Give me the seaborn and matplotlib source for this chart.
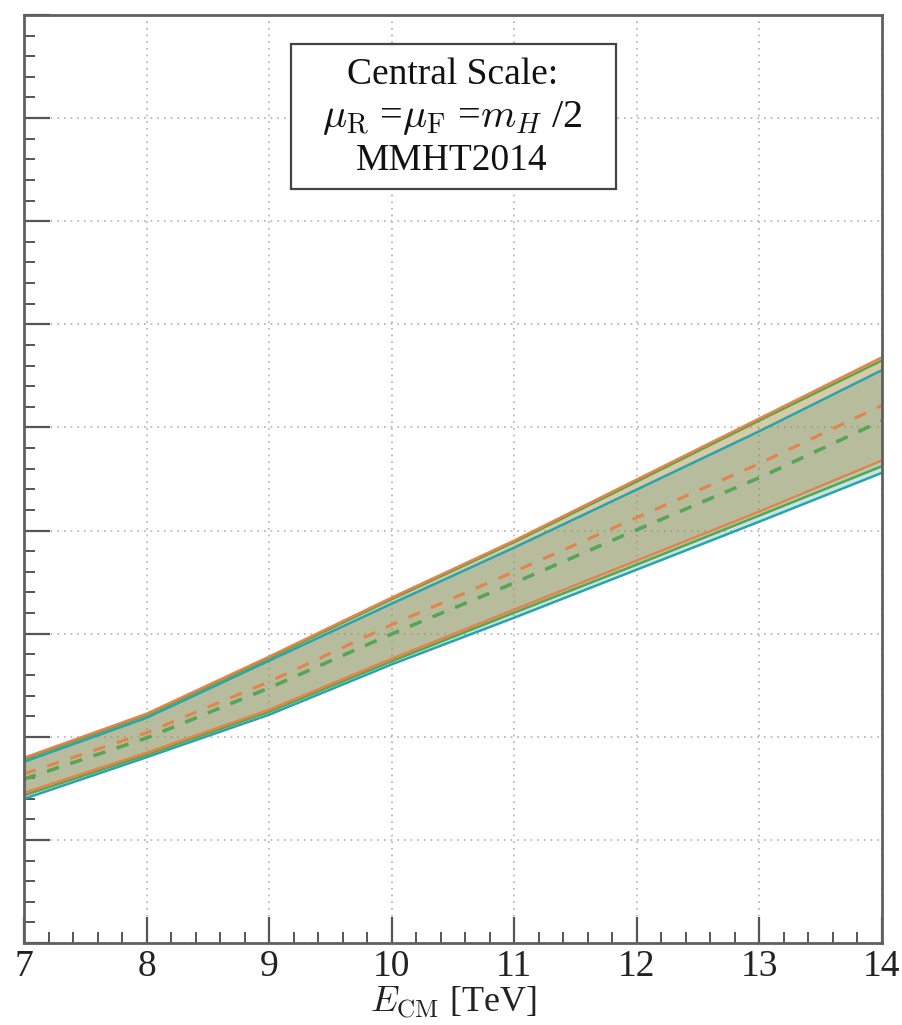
import numpy as np
import pandas as pd
import seaborn as sns
import matplotlib
matplotlib.use("Agg")
import matplotlib.pyplot as plt
from matplotlib.patches import Rectangle
from matplotlib.ticker import MultipleLocator, NullFormatter

# Centre-of-mass energies [TeV]
energy = [7, 8, 9, 10, 11, 12, 13, 14]

# Cross sections (central value and scale band) for three calculations
orange_central = [16.41, 20.39, 25.34, 30.87, 36.02, 41.26, 46.50, 52.14]
orange_upper = [17.96, 22.23, 27.77, 33.50, 39.03, 44.95, 50.87, 56.80]
orange_lower = [14.56, 18.45, 22.62, 27.57, 32.33, 37.09, 41.84, 46.80]

green_central = [15.92, 19.90, 24.76, 30.00, 34.95, 40.10, 45.15, 50.68]
green_upper = [17.82, 22.09, 27.62, 33.35, 38.88, 44.76, 50.68, 56.50]
green_lower = [14.32, 18.25, 22.43, 27.33, 32.04, 36.70, 41.46, 46.24]

teal_central = [15.88, 19.86, 24.72, 29.96, 34.91, 40.06, 45.11, 50.64]
teal_upper = [17.57, 21.84, 27.38, 32.91, 38.35, 43.98, 49.64, 55.56]
teal_lower = [13.98, 18.01, 22.14, 27.02, 31.55, 36.21, 40.87, 45.60]

x_ticks = [7, 8, 9, 10, 11, 12, 13, 14]

series = {
    "orange": (orange_central, orange_upper, orange_lower, "#e2844c"),
    "green": (green_central, green_upper, green_lower, "#5ea44a"),
    "teal": (teal_central, teal_upper, teal_lower, "#2ba3ad"),
}

sns.set_theme(style="white")
plt.rcParams["font.family"] = ["Liberation Serif", "DejaVu Serif"]
plt.rcParams["mathtext.fontset"] = "cm"

fig = plt.figure(figsize=(9.03, 10.25), dpi=100)
ax = fig.add_axes([24 / 903, 82 / 1025, 858 / 903, 928 / 1025])

rows = []
for name, (cen, up, lo, col) in series.items():
    for e, c, u, l in zip(energy, cen, up, lo):
        rows.append({"E": e, "xs": c, "up": u, "lo": l, "calc": name})
df = pd.DataFrame(rows)

for name in ["teal", "green", "orange"]:
    cen, up, lo, col = series[name]
    sub = df[df["calc"] == name]
    ax.fill_between(sub["E"], sub["lo"], sub["up"], color=col, alpha=0.28, lw=0)

for name in ["teal", "green", "orange"]:
    cen, up, lo, col = series[name]
    sub = df[df["calc"] == name]
    sns.lineplot(data=sub, x="E", y="up", color=col, lw=1.8, ax=ax)
    sns.lineplot(data=sub, x="E", y="lo", color=col, lw=1.8, ax=ax)
    sns.lineplot(data=sub, x="E", y="xs", color=col, lw=2.2, ax=ax,
                 linestyle=(0, (4, 4)))

ax.set_xlim(7, 14)
ax.set_ylim(0, 90)
ax.set_xticks(x_ticks)
ax.set_xticklabels([str(t) for t in x_ticks])
ax.xaxis.set_minor_locator(MultipleLocator(0.2))
ax.yaxis.set_major_locator(MultipleLocator(10))
ax.yaxis.set_minor_locator(MultipleLocator(2))
ax.yaxis.set_major_formatter(NullFormatter())

ax.tick_params(axis="both", which="major", direction="in", length=19,
               width=1.6, color="#555555", labelsize=27, labelcolor="#222222",
               pad=5)
ax.tick_params(axis="both", which="minor", direction="in", length=8,
               width=1.4, color="#555555")
ax.tick_params(which="both", bottom=True, left=True, top=False, right=False)
ax.tick_params(axis="y", which="both", labelleft=False)

ax.grid(True, which="major", linestyle=(0, (1, 3)), color="#b0b0b0", lw=1.2)
for s in ax.spines.values():
    s.set_color("#606060")
    s.set_linewidth(2)

ax.set_xlabel(r"$E_{\rm CM}$ [TeV]", fontsize=26, color="#222222", labelpad=0)
ax.set_ylabel("")

# Scale-choice annotation box (positions in axes fraction)
ax.add_patch(Rectangle((0.311, 0.812), 0.379, 0.157, transform=ax.transAxes,
                       fill=True, fc="white", ec="#444444", lw=1.6, zorder=5))
ax.text(0.499, 0.936, "Central Scale:", transform=ax.transAxes, ha="center",
        va="center", fontsize=27, color="#111111", zorder=6)
ax.text(0.499, 0.889, r"$\mu_{\rm R}$ =$\mu_{\rm F}$ =$m_{H}$ /2",
        transform=ax.transAxes, ha="center", va="center", fontsize=29,
        color="#111111", zorder=6)
ax.text(0.499, 0.843, "MMHT2014", transform=ax.transAxes, ha="center",
        va="center", fontsize=27, color="#111111", zorder=6)

fig.savefig("out.png", dpi=100)
